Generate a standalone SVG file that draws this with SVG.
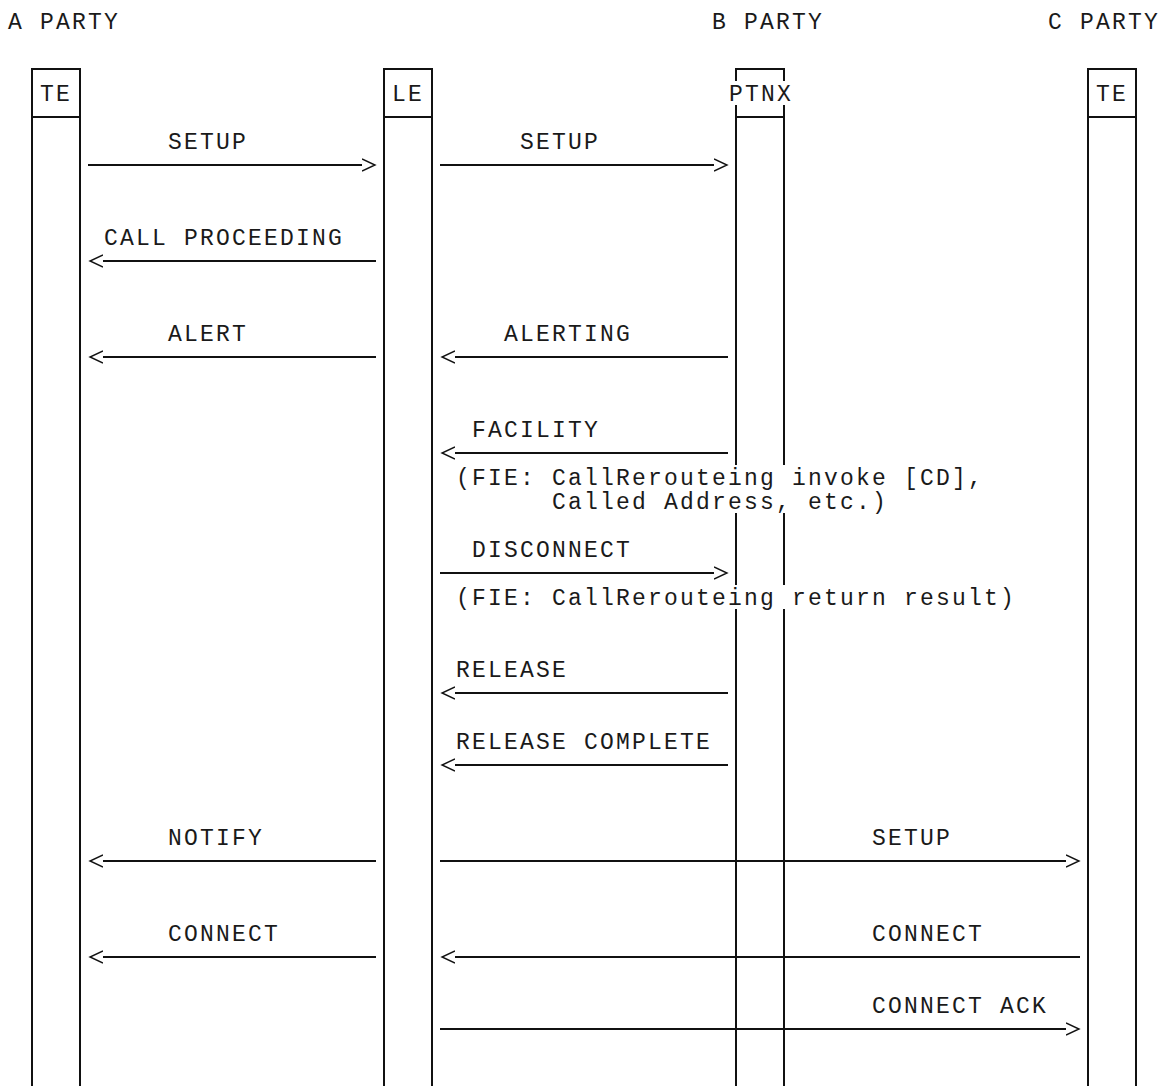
<svg xmlns="http://www.w3.org/2000/svg" width="1164" height="1086" viewBox="0 0 1164 1086">
  <style>
    text { font-family: "Liberation Mono", "Courier New", monospace; font-size: 23px; letter-spacing: 2.2px; fill: #1a1a1a; white-space: pre; }
    .life { fill: none; stroke: #111; stroke-width: 2; }
    .msg { fill: none; stroke: #111; stroke-width: 2; }
    .r { marker-end: url(#chev); }
    .l { marker-start: url(#chev); }
  </style>
  <defs>
    <marker id="chev" markerUnits="userSpaceOnUse" markerWidth="16" markerHeight="16" viewBox="0 -8 16 16" refX="0" refY="0" orient="auto-start-reverse">
      <polyline points="0,-6 13,0 0,6" fill="none" stroke="#111" stroke-width="1.4"/>
    </marker>
  </defs>
  <rect width="1164" height="1086" fill="#fff"/>

  <g id="party-labels">
    <text x="8" y="29">A PARTY</text>
    <text x="712" y="29">B PARTY</text>
    <text x="1048" y="29">C PARTY</text>
  </g>

  <g id="node-a-te">
    <path class="life" d="M32 1086 V69 H80 V1086 M32 117 H80"/>
    <text x="40" y="101">TE</text>
  </g>
  <g id="node-le">
    <path class="life" d="M384 1086 V69 H432 V1086 M384 117 H432"/>
    <text x="392" y="101">LE</text>
  </g>
  <g id="node-ptnx">
    <path class="life" d="M736 81 V69 H784 V81 M736 117 H784 M736 105 V465 M736 513 V585 M736 609 V1086 M784 105 V465 M784 513 V585 M784 609 V1086"/>
    <text x="729" y="101">PTNX</text>
  </g>
  <g id="node-c-te">
    <path class="life" d="M1088 1086 V69 H1136 V1086 M1088 117 H1136"/>
    <text x="1096" y="101">TE</text>
  </g>

  <g id="connectors">
    <line class="msg r" x1="88" y1="165" x2="362" y2="165"/>
    <text x="168" y="149">SETUP</text>
    <line class="msg r" x1="440" y1="165" x2="714" y2="165"/>
    <text x="520" y="149">SETUP</text>

    <line class="msg l" x1="103" y1="261" x2="376" y2="261"/>
    <text x="104" y="245">CALL PROCEEDING</text>

    <line class="msg l" x1="103" y1="357" x2="376" y2="357"/>
    <text x="168" y="341">ALERT</text>
    <line class="msg l" x1="455" y1="357" x2="728" y2="357"/>
    <text x="504" y="341">ALERTING</text>

    <line class="msg l" x1="455" y1="453" x2="728" y2="453"/>
    <text x="472" y="437">FACILITY</text>
    <text x="456" y="485">(FIE: CallRerouteing invoke [CD],<tspan x="552" dy="24">Called Address, etc.)</tspan></text>

    <line class="msg r" x1="440" y1="573" x2="714" y2="573"/>
    <text x="472" y="557">DISCONNECT</text>
    <text x="456" y="605">(FIE: CallRerouteing return result)</text>

    <line class="msg l" x1="455" y1="693" x2="728" y2="693"/>
    <text x="456" y="677">RELEASE</text>

    <line class="msg l" x1="455" y1="765" x2="728" y2="765"/>
    <text x="456" y="749">RELEASE COMPLETE</text>

    <line class="msg l" x1="103" y1="861" x2="376" y2="861"/>
    <text x="168" y="845">NOTIFY</text>
    <line class="msg r" x1="440" y1="861" x2="1066" y2="861"/>
    <text x="872" y="845">SETUP</text>

    <line class="msg l" x1="103" y1="957" x2="376" y2="957"/>
    <text x="168" y="941">CONNECT</text>
    <line class="msg l" x1="455" y1="957" x2="1080" y2="957"/>
    <text x="872" y="941">CONNECT</text>

    <line class="msg r" x1="440" y1="1029" x2="1066" y2="1029"/>
    <text x="872" y="1013">CONNECT ACK</text>
  </g>
</svg>
